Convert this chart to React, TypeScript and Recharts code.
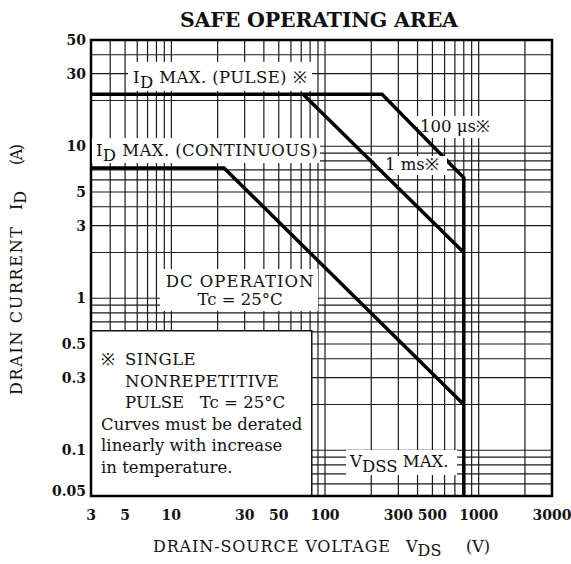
import React from 'react';
import { ComposedChart, Line, XAxis, YAxis, CartesianGrid, ReferenceDot, ReferenceArea } from 'recharts';

const FONT = '"DejaVu Serif", "Liberation Serif", serif';

const xTicks = [3, 5, 10, 30, 50, 100, 300, 500, 1000, 3000];
const yTicks = [0.05, 0.1, 0.3, 0.5, 1, 3, 5, 10, 30, 50];
const gridX = [3, 4, 5, 6, 7, 8, 9, 10, 20, 30, 40, 50, 60, 70, 80, 90, 100, 200, 300, 400, 500, 600, 700, 800, 900, 1000, 2000, 3000];
const gridY = [0.05, 0.06, 0.07, 0.08, 0.09, 0.1, 0.2, 0.3, 0.4, 0.5, 0.6, 0.7, 0.8, 0.9, 1, 2, 3, 4, 5, 6, 7, 8, 9, 10, 20, 30, 40, 50];

// SOA curves (V_DS in V, I_D in A)
const pulse100us = [
  { v: 3, i: 22 },
  { v: 235, i: 22 },
  { v: 800, i: 6.2 },
  { v: 800, i: 0.05 },
];
const pulse1ms = [
  { v: 72, i: 22 },
  { v: 800, i: 2 },
];
const dcOperation = [
  { v: 3, i: 7.2 },
  { v: 22, i: 7.2 },
  { v: 800, i: 0.2 },
];

// annotation anchors (data coordinates)
const notePanel = { x1: 3, x2: 82, y1: 0.05, y2: 0.61 };
const pulseLabelAt = { v: 5.63, i: 26.1 };
const contLabelAt = { v: 3.23, i: 8.62 };
const us100LabelAt = { v: 403, i: 12.4 };
const ms1LabelAt = { v: 242, i: 6.97 };
const dcLabelAt = { v: 28, i: 1.185 };
const vdssLabelAt = { v: 145.6, i: 0.0776 };
const noteTextAt = { v: 3.49, i: 0.364 };

const TXT = { fontFamily: FONT, fontSize: 16.5, fill: '#111' };

const box = (x: number, y: number, w: number, h: number) => (
  <rect x={x} y={y} width={w} height={h} fill="#fff" stroke="none" />
);

const PulseLabel = (p: any) => (
  <g>
    {box(p.cx - 5, p.cy - 21, 184, 29)}
    <text x={p.cx} y={p.cy} {...TXT} letterSpacing={0.4}>
      <tspan>I</tspan>
      <tspan dy={5}>D</tspan>
      <tspan dy={-5}> MAX. (PULSE) ※</tspan>
    </text>
  </g>
);

const ContLabel = (p: any) => (
  <g>
    {box(p.cx - 4, p.cy - 18, 228, 25)}
    <text x={p.cx} y={p.cy} {...TXT} letterSpacing={0.4}>
      <tspan>I</tspan>
      <tspan dy={5}>D</tspan>
      <tspan dy={-5}> MAX. (CONTINUOUS)</tspan>
    </text>
  </g>
);

const Us100Label = (p: any) => {
  const { cx, cy } = p;
  const pts = [
    [cx - 11, cy - 16],
    [cx + 73, cy - 16],
    [cx + 73, cy + 6],
    [cx + 10, cy + 6],
  ]
    .map((q) => q.join(','))
    .join(' ');
  return (
    <g>
      <polygon points={pts} fill="#fff" stroke="none" />
      <text x={cx + 2} y={cy} {...TXT}>100 μs※</text>
    </g>
  );
};

const Ms1Label = (p: any) => {
  const { cx, cy } = p;
  const pts = [
    [cx - 15, cy - 14],
    [cx + 63, cy - 14],
    [cx + 63, cy + 5],
    [cx + 4, cy + 5],
  ]
    .map((q) => q.join(','))
    .join(' ');
  return (
    <g>
      <polygon points={pts} fill="#fff" stroke="none" />
      <text x={cx + 1} y={cy} {...TXT}>1 ms※</text>
    </g>
  );
};

const DcLabel = (p: any) => (
  <g>
    {box(p.cx - 80, p.cy - 18, 158, 42)}
    <text x={p.cx} y={p.cy} textAnchor="middle" {...TXT} letterSpacing={1}>DC OPERATION</text>
    <text x={p.cx} y={p.cy + 18} textAnchor="middle" {...TXT}>Tc = 25°C</text>
  </g>
);

const VdssLabel = (p: any) => (
  <g>
    {box(p.cx - 4, p.cy - 17, 111, 25)}
    <text x={p.cx} y={p.cy} {...TXT}>
      <tspan>V</tspan>
      <tspan dy={5}>DSS</tspan>
      <tspan dy={-5}> MAX.</tspan>
    </text>
  </g>
);

const NoteText = (p: any) => {
  const lh = 21.6;
  return (
    <g>
      <text x={p.cx} y={p.cy} {...TXT}>※</text>
      <text x={p.cx + 24} y={p.cy} {...TXT} letterSpacing={0.4}>SINGLE</text>
      <text x={p.cx + 24} y={p.cy + lh} {...TXT} letterSpacing={0.4}>NONREPETITIVE</text>
      <text x={p.cx + 24} y={p.cy + lh * 2} {...TXT} style={{ whiteSpace: 'pre' }}>PULSE   Tc = 25°C</text>
      <text x={p.cx} y={p.cy + lh * 3} {...TXT}>Curves must be derated</text>
      <text x={p.cx} y={p.cy + lh * 4} {...TXT}>linearly with increase</text>
      <text x={p.cx} y={p.cy + lh * 5} {...TXT}>in temperature.</text>
    </g>
  );
};

const YTick = (props: any) => {
  const { x, y, payload } = props;
  const shift = payload.value === 0.05 ? -5 : 0;
  return (
    <text x={x} y={y + shift} dy="0.36em" textAnchor="end" fontFamily={FONT} fontSize={14} fontWeight="bold" fill="#111">
      {payload.value}
    </text>
  );
};

const XTick = (props: any) => {
  const { x, y, payload } = props;
  return (
    <text x={x} y={y} dy="0.71em" textAnchor="middle" fontFamily={FONT} fontSize={14} fontWeight="bold" fill="#111">
      {payload.value}
    </text>
  );
};

const AX = { fontFamily: FONT, fontSize: 16, fill: '#111' };

export default function App() {
  return (
    <div style={{ position: 'absolute', left: 0, top: 0, width: 571, height: 564, background: '#fff', overflow: 'hidden' }}>
      <ComposedChart width={571} height={564} margin={{ top: 40, right: 19, bottom: 38, left: 0 }}>
        <XAxis
          dataKey="v"
          type="number"
          scale="log"
          domain={[3, 3000]}
          ticks={xTicks}
          allowDataOverflow
          axisLine={false}
          tickLine={false}
          tickSize={6}
          tickMargin={8}
          height={30}
          tick={<XTick />}
          interval={0}
        />
        <YAxis
          dataKey="i"
          type="number"
          scale="log"
          domain={[0.05, 50]}
          ticks={yTicks}
          allowDataOverflow
          axisLine={false}
          tickLine={false}
          tickSize={2}
          tickMargin={3}
          width={91}
          tick={<YTick />}
          interval={0}
        />
        <CartesianGrid
          verticalValues={gridX}
          horizontalValues={gridY}
          stroke="#1a1a1a"
          strokeWidth={1.2}
          fill="none"
        />
        <ReferenceArea {...notePanel} fill="#fff" fillOpacity={1} stroke="#111" strokeWidth={1.5} ifOverflow="visible" />
        <ReferenceDot x={pulseLabelAt.v} y={pulseLabelAt.i} r={0} shape={PulseLabel} ifOverflow="visible" />
        <ReferenceDot x={contLabelAt.v} y={contLabelAt.i} r={0} shape={ContLabel} ifOverflow="visible" />
        <ReferenceDot x={us100LabelAt.v} y={us100LabelAt.i} r={0} shape={Us100Label} ifOverflow="visible" />
        <ReferenceDot x={ms1LabelAt.v} y={ms1LabelAt.i} r={0} shape={Ms1Label} ifOverflow="visible" />
        <ReferenceDot x={dcLabelAt.v} y={dcLabelAt.i} r={0} shape={DcLabel} ifOverflow="visible" />
        <ReferenceDot x={vdssLabelAt.v} y={vdssLabelAt.i} r={0} shape={VdssLabel} ifOverflow="visible" />
        <ReferenceDot x={noteTextAt.v} y={noteTextAt.i} r={0} shape={NoteText} ifOverflow="visible" />
        <ReferenceArea x1={3} x2={3000} y1={0.05} y2={50} fill="none" stroke="#000" strokeWidth={2.5} ifOverflow="visible" />
        <Line data={pulse100us} dataKey="i" type="linear" stroke="#000" strokeWidth={3.5} dot={false} isAnimationActive={false} />
        <Line data={pulse1ms} dataKey="i" type="linear" stroke="#000" strokeWidth={3.5} dot={false} isAnimationActive={false} />
        <Line data={dcOperation} dataKey="i" type="linear" stroke="#000" strokeWidth={3.5} dot={false} isAnimationActive={false} />
      </ComposedChart>
      <svg width={571} height={564} style={{ position: 'absolute', left: 0, top: 0, pointerEvents: 'none' }}>
        <text x={180} y={27} textLength={278} lengthAdjust="spacing" fontFamily={FONT} fontSize={20.5} fontWeight="bold" fill="#111">
          SAFE OPERATING AREA
        </text>
        <text x={153} y={552} textLength={237} lengthAdjust="spacing" {...AX}>DRAIN-SOURCE VOLTAGE</text>
        <text x={406} y={552} {...AX}>
          <tspan>V</tspan>
          <tspan dy={4}>DS</tspan>
        </text>
        <text x={466} y={552} textLength={24} lengthAdjust="spacing" {...AX}>(V)</text>
        <g transform="translate(22,0) rotate(-90)">
          <text x={-395} y={0} textLength={168} lengthAdjust="spacing" {...AX}>DRAIN CURRENT</text>
          <text x={-210} y={0} {...AX}>
            <tspan>I</tspan>
            <tspan dy={4}>D</tspan>
          </text>
          <text x={-165} y={0} textLength={21} lengthAdjust="spacing" {...AX}>(A)</text>
        </g>
      </svg>
    </div>
  );
}
